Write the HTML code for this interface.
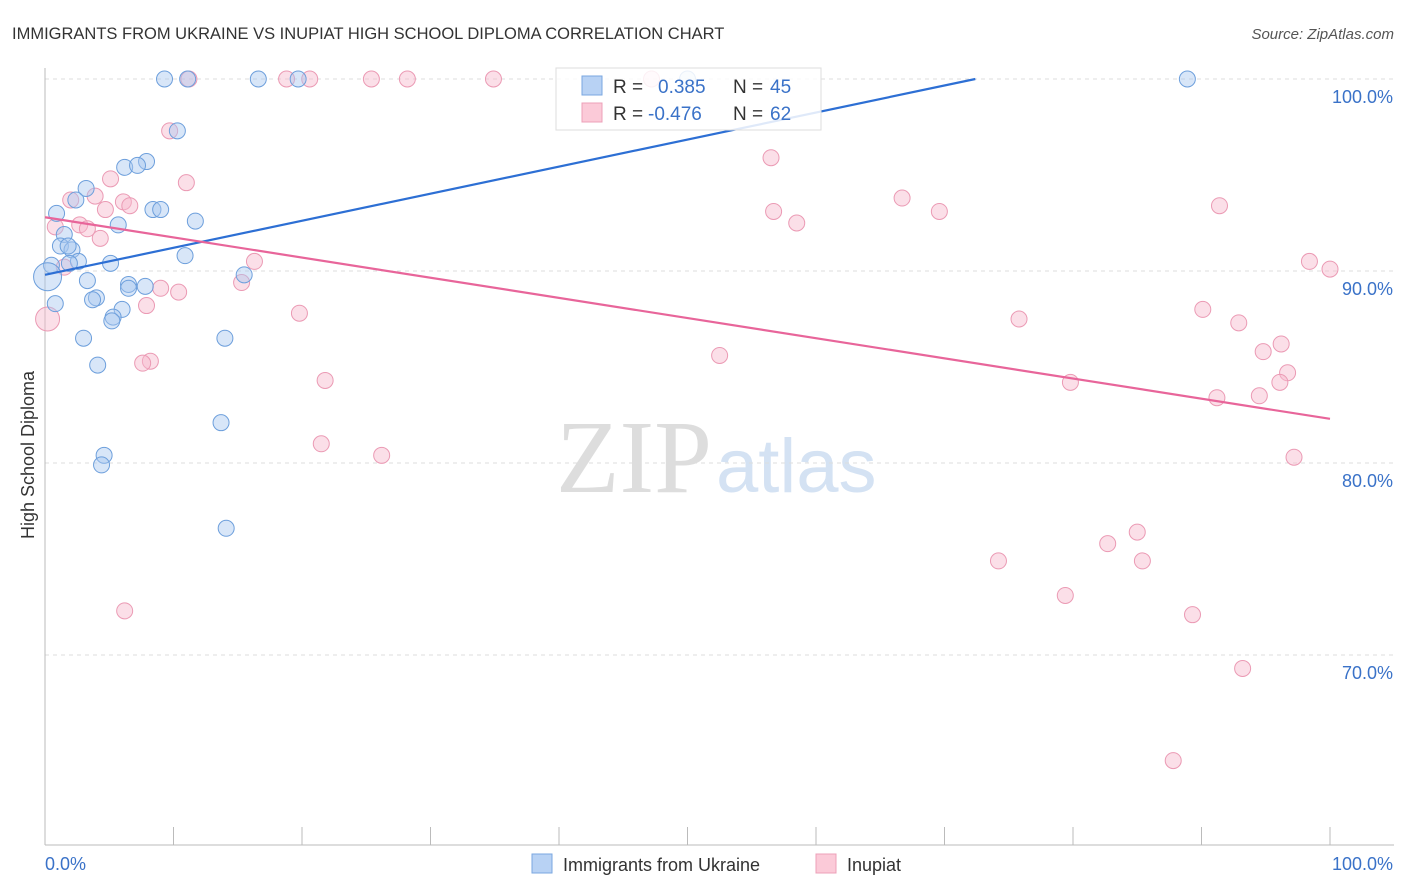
<!DOCTYPE html>
<html><head><meta charset="utf-8"><style>
body{margin:0;background:#fff;font-family:"Liberation Sans",sans-serif;}
svg{display:block}
</style></head><body>
<svg id="chart" width="1406" height="892">
<text x="12" y="39" font-size="16.5" fill="#333">IMMIGRANTS FROM UKRAINE VS INUPIAT HIGH SCHOOL DIPLOMA CORRELATION CHART</text>
<text x="1394" y="39" font-size="15" fill="#555" text-anchor="end" font-style="italic">Source: ZipAtlas.com</text>
<text x="712" y="492" font-size="104" fill="#ddd" text-anchor="end" font-family="Liberation Serif">ZIP</text>
<text x="716" y="492" font-size="76" fill="#d4e2f3">atlas</text>
<text transform="translate(34,455) rotate(-90)" font-size="18" fill="#333" text-anchor="middle">High School Diploma</text>
<g id="grid"></g><g id="pts"></g><g id="lines"></g>
<g>
<rect x="556" y="68" width="265" height="62" fill="#fff" fill-opacity="0.85" stroke="#ddd"/>
<rect x="582" y="76" width="20" height="19" fill="#b8d2f4" stroke="#7aa7e0"/>
<rect x="582" y="103" width="20" height="19" fill="#fbcad8" stroke="#eda0b8"/>
<text x="613" y="93" font-size="19" fill="#333">R = </text><text x="658" y="93" font-size="19" fill="#3a72c8">0.385</text>
<text x="733" y="93" font-size="19" fill="#333">N = </text><text x="770" y="93" font-size="19" fill="#3a72c8">45</text>
<text x="613" y="120" font-size="19" fill="#333">R = </text><text x="648" y="120" font-size="19" fill="#3a72c8">-0.476</text>
<text x="733" y="120" font-size="19" fill="#333">N = </text><text x="770" y="120" font-size="19" fill="#3a72c8">62</text>
</g>
<g>
<rect x="532" y="854" width="20" height="19" fill="#b8d2f4" stroke="#7aa7e0"/>
<text x="563" y="871" font-size="18" fill="#333">Immigrants from Ukraine</text>
<rect x="816" y="854" width="20" height="19" fill="#fbcad8" stroke="#eda0b8"/>
<text x="847" y="871" font-size="18" fill="#333">Inupiat</text>
</g>
</svg>
<script>
const yTicks=[100,90,80,70];
const xTickLabels=["0.0%","100.0%"];
const blueX=[9.3,11.1,16.6,19.7,50.0,88.9,10.3,7.9,6.2,7.2,3.2,2.4,0.9,8.4,9.0,11.7,5.7,1.5,1.2,2.1,1.8,10.9,2.6,1.9,5.1,0.5,0.2,15.5,3.3,6.5,7.8,6.5,4.0,3.7,0.8,6.0,5.3,5.2,3.0,14.0,4.1,13.7,4.6,4.4,14.1];
const blueY=[100,100,100,100,100,100,97.3,95.7,95.4,95.5,94.3,93.7,93.0,93.2,93.2,92.6,92.4,91.9,91.3,91.1,91.3,90.8,90.5,90.4,90.4,90.3,89.7,89.8,89.5,89.3,89.2,89.1,88.6,88.5,88.3,88.0,87.6,87.4,86.5,86.5,85.1,82.1,80.4,79.9,76.6];
const pinkX=[11.2,18.8,20.6,25.4,28.2,34.9,47.2,9.7,56.5,5.1,11.0,3.9,2.0,6.1,6.6,4.7,56.7,66.7,69.6,91.4,58.5,2.7,3.3,0.8,4.3,16.3,1.5,15.3,9.0,10.4,7.9,19.8,90.1,75.8,92.9,0.2,96.2,94.8,52.5,8.2,7.6,96.7,21.8,79.8,96.1,94.5,91.2,21.5,26.2,97.2,98.4,100,85.0,82.7,85.4,74.2,79.4,6.2,89.3,93.2,87.8];
const pinkY=[100,100,100,100,100,100,100,97.3,95.9,94.8,94.6,93.9,93.7,93.6,93.4,93.2,93.1,93.8,93.1,93.4,92.5,92.4,92.2,92.3,91.7,90.5,90.2,89.4,89.1,88.9,88.2,87.8,88.0,87.5,87.3,87.5,86.2,85.8,85.6,85.3,85.2,84.7,84.3,84.2,84.2,83.5,83.4,81.0,80.4,80.3,90.5,90.1,76.4,75.8,74.9,74.9,73.1,72.3,72.1,69.3,64.5];
const blueLine=[[0,89.8],[72.4,100]];
const pinkLine=[[0,92.8],[100,82.3]];
const NS="http://www.w3.org/2000/svg";
const X=v=>45+v*12.85, Y=v=>79+(100-v)*19.2;
function mk(t,a,p){const e=document.createElementNS(NS,t);for(const k in a)e.setAttribute(k,a[k]);p.appendChild(e);return e;}
const grid=document.getElementById('grid');
yTicks.forEach(v=>{
 const l=mk('line',{x1:45,x2:1394,y1:Y(v),y2:Y(v),stroke:'#ddd','stroke-dasharray':'4,4'},grid);
 
 
 const t=mk('text',{x:1393,y:Y(v)+24,'font-size':18,fill:'#3a72c8','text-anchor':'end'},grid);
 t.textContent=v.toFixed(1)+'%';
 
 
});
mk('line',{x1:45,x2:45,y1:68,y2:845,stroke:'#bbb'},grid);
mk('line',{x1:45,x2:1394,y1:845,y2:845,stroke:'#bbb'},grid);
for(let i=0;i<=10;i++){mk('line',{x1:X(i*10),x2:X(i*10),y1:827,y2:845,stroke:'#bbb'},grid);}
const t0=mk('text',{x:45,y:870,'font-size':18,fill:'#3a72c8'},grid);t0.textContent=xTickLabels[0];


const t1=mk('text',{x:1393,y:870,'font-size':18,fill:'#3a72c8','text-anchor':'end'},grid);t1.textContent=xTickLabels[1];


const pts=document.getElementById('pts');
pinkX.forEach((x,i)=>{const c=mk('circle',{cx:X(x),cy:Y(pinkY[i]),r:i==35?12:8,fill:'rgba(247,184,203,0.45)',stroke:'#eb9ab4','stroke-width':1},pts);
 
 });
blueX.forEach((x,i)=>{const c=mk('circle',{cx:X(x),cy:Y(blueY[i]),r:i==26?14:8,fill:'rgba(169,200,240,0.45)',stroke:'#6d9fdc','stroke-width':1},pts);
 
 });
const lines=document.getElementById('lines');
const bl=mk('line',{x1:X(blueLine[0][0]),y1:Y(blueLine[0][1]),x2:X(blueLine[1][0]),y2:Y(blueLine[1][1]),stroke:'#2d6fd4','stroke-width':2.2},lines);


const pl=mk('line',{x1:X(pinkLine[0][0]),y1:Y(pinkLine[0][1]),x2:X(pinkLine[1][0]),y2:Y(pinkLine[1][1]),stroke:'#e8659a','stroke-width':2.2},lines);


</script>
</body></html>
